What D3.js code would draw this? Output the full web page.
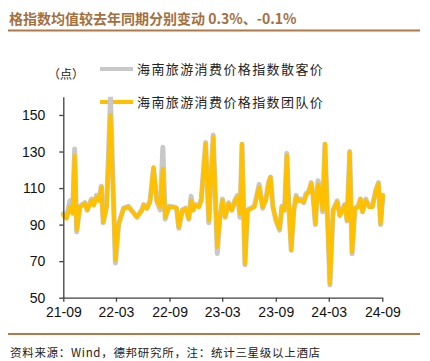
<!DOCTYPE html>
<html>
<head>
<meta charset="utf-8">
<script src="https://cdn.jsdelivr.net/npm/d3@7"></script>
<style>
  body { margin: 0; background: #fff; }
  svg { display: block; }
</style>
</head>
<body>
<div id="chart"></div>
<script>
const dates = [
  "2021-09-01","2021-09-12","2021-09-24","2021-10-03","2021-10-10","2021-10-17","2021-10-28","2021-11-14","2021-11-22","2021-12-07",
  "2021-12-15","2021-12-24","2022-01-02","2022-01-10","2022-01-16","2022-01-28","2022-02-10","2022-02-27","2022-03-10","2022-03-27",
  "2022-04-13","2022-05-12","2022-05-29","2022-06-04","2022-06-15","2022-06-26","2022-07-08","2022-07-19","2022-07-31","2022-08-09",
  "2022-08-17","2022-08-30","2022-09-16","2022-09-25","2022-10-03","2022-10-15","2022-10-26","2022-11-06","2022-11-14","2022-11-21",
  "2022-11-29","2022-12-11","2022-12-19","2023-01-03","2023-01-14","2023-01-29","2023-02-12","2023-02-21","2023-03-02","2023-03-11",
  "2023-03-23","2023-04-03","2023-04-15","2023-04-23","2023-05-01","2023-05-08","2023-05-18","2023-05-27","2023-06-08","2023-06-19",
  "2023-06-25","2023-07-06","2023-07-18","2023-07-29","2023-08-07","2023-08-14","2023-08-22","2023-09-02","2023-09-14","2023-09-22",
  "2023-10-01","2023-10-09","2023-10-15","2023-10-24","2023-11-02","2023-11-10","2023-11-18","2023-11-27","2023-12-06","2023-12-14",
  "2023-12-23","2024-01-01","2024-01-07","2024-01-15","2024-01-24","2024-02-02","2024-02-09","2024-02-17","2024-02-25","2024-03-05",
  "2024-03-16","2024-03-30","2024-04-08","2024-04-17","2024-04-25","2024-05-03","2024-05-12","2024-05-20","2024-05-30","2024-06-10",
  "2024-06-18","2024-06-25","2024-07-06","2024-07-18","2024-07-29","2024-08-10","2024-08-19","2024-08-26","2024-09-03"
];

// 海南旅游消费价格指数团队价
const groupPrice = [
  95, 93.3, 99.6, 96, 127.8, 87, 99.6, 101.4, 97.8, 103.2,
  100.5, 105, 103, 110.5, 91.4, 99.6, 150, 70.5, 90.5, 98.7,
  99.6, 94.2, 97.8, 100.5, 98.7, 102.3, 121.4, 103.2, 99.6, 120.5,
  94.2, 99.6, 99.6, 99, 88.7, 97.8, 98.7, 93.3, 103.2, 97.8,
  100.5, 99.6, 103.2, 134.1, 92.3, 137.8, 77.8, 94.2, 103.2, 94.2,
  101.4, 97.8, 103.2, 105, 96, 134.1, 68.7, 97.8, 98.7, 99.6,
  103.2, 110.5, 99.6, 103.2, 112.3, 116, 99.6, 92.3, 87.8, 99.6,
  97.8, 127.8, 103.2, 76, 97.8, 105, 103.2, 103.2, 102.3, 106,
  107.8, 112.3, 106, 90.5, 112, 108.7, 97.8, 134.1, 97.8, 57.8,
  97.8, 102.3, 95.1, 97.8, 100.5, 92.3, 129.6, 75.1, 98.7, 99.6,
  104.1, 96.9, 103.2, 99.6, 99.6, 108.7, 112.3, 90.5, 106
];

// 海南旅游消费价格指数散客价
const individualPrice = [
  96, 94, 103, 97, 131.4, 86, 100, 102, 98, 104,
  101, 106, 104, 111, 91, 100, 160, 69, 90, 99,
  100, 94, 98, 101, 99, 103, 121, 103, 98, 132.3,
  93, 100, 99.6, 99, 88, 98, 99, 93, 105.5, 98,
  101, 100, 104, 135, 91, 139, 74.2, 94, 104, 94,
  102, 98, 104, 106, 94, 134, 68, 98, 99, 100,
  104, 112, 99, 104, 113, 116, 100, 92, 87, 100,
  98, 129, 103, 76, 98, 106, 103, 104, 102, 107,
  108, 113, 106, 90, 114, 109, 97, 134, 97, 57,
  98, 103, 95, 98, 101, 92, 130, 74, 99, 100,
  104, 97, 104, 100, 100, 109, 113, 90, 106
];

const seriesNames = ["海南旅游消费价格指数散客价", "海南旅游消费价格指数团队价"];
const seriesColors = ["#c8c8c8", "#ffc000"];
const yTicks = [50, 70, 90, 110, 130, 150];
const xTicks = ["2021-09-01","2022-03-01","2022-09-01","2023-03-01","2023-09-01","2024-03-01","2024-09-01"];

const W = 430, H = 361;
const plotLeft = 63.3, plotRight = 382.3, plotTop = 96.7, plotBottom = 297.7;
const parse = d3.timeParse("%Y-%m-%d");

const svg = d3.select("#chart").append("svg")
  .attr("width", W).attr("height", H);

// title and rules
svg.append("text")
  .attr("x", 9).attr("y", 24)
  .attr("fill", "#a3703e")
  .style("font-family", "'Noto Sans CJK SC', 'Liberation Sans', sans-serif")
  .style("font-size", "14px").style("font-weight", "bold")
  .text("格指数均值较去年同期分别变动 0.3%、-0.1%");
svg.append("line").attr("x1", 8).attr("x2", 420).attr("y1", 30.5).attr("y2", 30.5)
  .attr("stroke", "#b07a48").attr("stroke-width", 2);
svg.append("line").attr("x1", 8).attr("x2", 420).attr("y1", 334).attr("y2", 334)
  .attr("stroke", "#b07a48").attr("stroke-width", 2);

svg.append("text")
  .attr("x", 10).attr("y", 357)
  .attr("fill", "#222")
  .style("font-family", "'Noto Sans CJK SC', sans-serif")
  .style("font-size", "11.5px")
  .style("letter-spacing", "0.7px")
  .text("资料来源：Wind，德邦研究所，注：统计三星级以上酒店");

// scales
const x = d3.scaleTime()
  .domain([parse(xTicks[0]), parse(xTicks[xTicks.length - 1])])
  .range([plotLeft, plotRight]);
const y = d3.scaleLinear().domain([50, 160]).range([plotBottom, plotTop]);

// unit label
svg.append("text")
  .attr("x", 48).attr("y", 79)
  .attr("fill", "#222")
  .style("font-family", "'Noto Sans CJK SC', sans-serif")
  .style("font-size", "12px")
  .text("（点）");

// legend
seriesNames.forEach((name, i) => {
  const ly = i === 0 ? 69 : 102;
  svg.append("line").attr("x1", 100).attr("x2", 133).attr("y1", ly).attr("y2", ly)
    .attr("stroke", seriesColors[i]).attr("stroke-width", 4);
  svg.append("text")
    .attr("x", 137).attr("y", ly + 4.5)
    .attr("fill", "#222")
    .style("font-family", "'Noto Sans CJK SC', sans-serif")
    .style("font-size", "13px")
    .style("letter-spacing", "1.4px")
    .text(name);
});

// lines
const line = (vals) => d3.line()
  .x((d, i) => x(parse(dates[i])))
  .y(d => y(d))
  .curve(d3.curveLinear)(vals);

svg.append("clipPath").attr("id", "plot")
  .append("rect").attr("x", plotLeft - 5).attr("y", plotTop)
  .attr("width", plotRight - plotLeft + 10).attr("height", plotBottom - plotTop);

const g = svg.append("g").attr("clip-path", "url(#plot)");
g.append("path").attr("d", line(individualPrice))
  .attr("fill", "none").attr("stroke", seriesColors[0])
  .attr("stroke-width", 5).attr("stroke-linejoin", "round").attr("stroke-linecap", "round");
g.append("path").attr("d", line(groupPrice))
  .attr("fill", "none").attr("stroke", seriesColors[1])
  .attr("stroke-width", 4).attr("stroke-linejoin", "round").attr("stroke-linecap", "round");

// axes
const yAxis = svg.append("g")
  .attr("transform", `translate(${plotLeft},0)`)
  .call(d3.axisLeft(y).tickValues(yTicks).tickSize(4).tickPadding(14).tickSizeOuter(0));
const xAxis = svg.append("g")
  .attr("transform", `translate(0,${plotBottom})`)
  .call(d3.axisBottom(x).tickValues(xTicks.map(parse)).tickFormat(d3.timeFormat("%y-%m"))
    .tickSize(4).tickPadding(5).tickSizeOuter(0));

[yAxis, xAxis].forEach(a => {
  a.select(".domain").attr("stroke", "#404040").attr("stroke-width", 1.3);
  a.selectAll(".tick line").attr("stroke", "#404040").attr("stroke-width", 1.3);
  a.selectAll(".tick text")
    .attr("fill", "#111")
    .style("font-family", "'Liberation Sans', Arial, sans-serif")
    .style("font-size", "14px");
});
</script>
</body>
</html>
